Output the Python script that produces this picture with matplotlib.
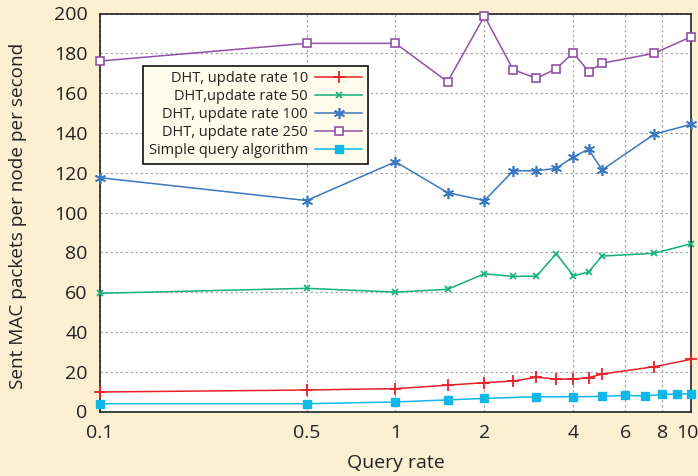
import matplotlib.pyplot as plt
import matplotlib.transforms as mtransforms
from matplotlib.ticker import FixedLocator, FixedFormatter, NullLocator

plt.rcParams['font.family'] = ['Open Sans', 'DejaVu Sans']

# query rates
x_dht = [0.1, 0.5, 1, 1.5, 2, 2.5, 3, 3.5, 4, 4.5, 5, 7.5, 10]
x_simple = [0.1, 0.5, 1, 1.5, 2, 3, 4, 5, 6, 7, 8, 9, 10]

dht_10 = [9.8, 10.8, 11.5, 13.2, 14.5, 15.3, 17.2, 16.3, 16.3, 17.0, 18.8, 22.5, 26.2]
dht_50 = [59.4, 61.9, 60.0, 61.4, 69.2, 67.9, 68.0, 79.3, 68.2, 70.1, 78.1, 79.5, 84.3]
dht_100 = [117.5, 106.0, 125.5, 110.0, 106.0, 120.9, 121.0, 122.2, 128.0, 131.8, 121.4, 139.3, 144.3]
dht_250 = [176.1, 185.0, 185.0, 165.7, 198.7, 171.8, 167.4, 172.3, 180.3, 170.8, 175.0, 180.0, 188.3]
simple = [3.9, 3.9, 4.8, 5.8, 6.6, 7.4, 7.4, 7.6, 8.1, 7.8, 8.6, 8.8, 8.8]

xticks = [0.1, 0.5, 1, 2, 4, 6, 8, 10]
xtick_labels = ["0.1", "0.5", "1", "2", "4", "6", "8", "10"]

fig = plt.figure(figsize=(6.98, 4.76), dpi=100, facecolor="#fdefd2")
ax = fig.add_axes([100 / 698, 1 - 411.5 / 476, 591 / 698, 398 / 476])
ax.set_facecolor("white")

ax.plot(x_dht, dht_10, color="#e8202a", marker="+", markersize=8, mew=1.3, lw=1.1,
        label="DHT, update rate 10", clip_on=False, zorder=3)
ax.plot(x_dht, dht_50, color="#12b07a", marker="x", markersize=5, mew=1.2, lw=1.1,
        label="DHT,update rate 50", clip_on=False, zorder=3)
ax.plot(x_dht, dht_100, color="#3a78c0", marker=(6, 2, 0), markersize=8, mew=1.2, lw=1.1,
        label="DHT, update rate 100", clip_on=False, zorder=3)
ax.plot(x_dht, dht_250, color="#9050a8", marker="s", markersize=6, mew=1.2, mfc="white",
        lw=1.1, label="DHT, update rate 250", clip_on=False, zorder=3)
ax.plot(x_simple, simple, color="#10b8e8", marker="s", markersize=6, lw=1.1,
        label="Simple query algorithm", clip_on=False, zorder=3)

ax.set_xscale("log")
ax.set_xlim(0.1, 10)
ax.set_ylim(0, 200)
ax.xaxis.set_major_locator(FixedLocator(xticks))
ax.xaxis.set_major_formatter(FixedFormatter(xtick_labels))
ax.xaxis.set_minor_locator(NullLocator())
ax.set_yticks(range(0, 201, 20))
ax.tick_params(length=0, labelsize=14, colors="#222222")
ax.tick_params(axis="x", pad=9)
ax.tick_params(axis="y", pad=9)
ax.grid(True, color="#aaaaaa", linestyle=(0, (2, 2)), lw=0.9)
for s in ax.spines.values():
    s.set_color("#222222")
    s.set_linewidth(1.2)

# nudge the "10" label a little left so it stays inside the figure
fig.canvas.draw()
last = ax.get_xticklabels()[-1]
last.set_transform(last.get_transform() + mtransforms.ScaledTranslation(-4 / 100, 0, fig.dpi_scale_trans))

ax.set_xlabel("Query rate", fontsize=14, color="#222222", labelpad=9)
ax.set_ylabel("Sent MAC packets per node per second", fontsize=13.7, color="#222222")
ax.yaxis.set_label_coords(-0.1235, 0.4925)

leg = ax.legend(loc="upper left", bbox_to_anchor=(43 / 591, 1 - 52 / 398), markerfirst=False,
                fontsize=10.5, frameon=True, fancybox=False, handlelength=3.2,
                borderpad=0.4, labelspacing=0.2, handletextpad=0.5, borderaxespad=0)
leg.get_frame().set_facecolor("#fffceb")
leg.get_frame().set_edgecolor("#111111")
leg.get_frame().set_linewidth(1.2)
leg.get_frame().set_alpha(1)
for t in leg.get_texts():
    t.set_ha("right")
    t.set_color("#222222")
leg._legend_box.align = "right"

fig.savefig("out.png", dpi=100, facecolor=fig.get_facecolor())
